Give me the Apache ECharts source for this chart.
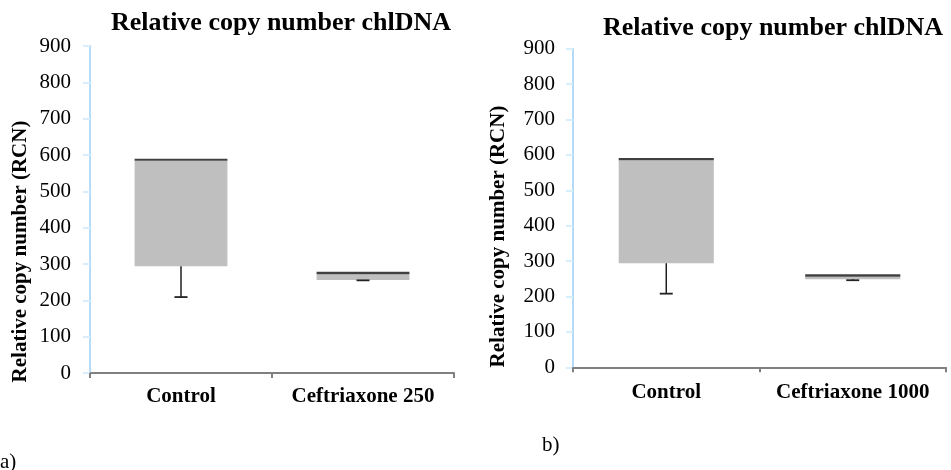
<!DOCTYPE html>
<html><head><meta charset="utf-8">
<script src="https://cdn.jsdelivr.net/npm/echarts@6/dist/echarts.min.js"></script>
<style>html,body{margin:0;padding:0;background:#fff}#c{width:951px;height:470px}</style>
</head><body><div id="c"></div>
<script>
// ---- data ----
const titleText = 'Relative copy number chlDNA';
const yAxisName = 'Relative copy number (RCN)';
const categoriesA = ['Control', 'Ceftriaxone 250'];
const categoriesB = ['Control', 'Ceftriaxone 1000'];
const minA = [209, 255];
const q1A = [294, 256];
const medianA = [584, 272];
const q3A = [590, 279];
const minB = [208, 246];
const q1B = [294, 249];
const medianB = [585, 256];
const q3B = [591, 263];
const yMin = 0, yMax = 900, yStep = 100;

// ---- styles ----
const FONT = "'Liberation Serif', 'Times New Roman', serif";
const BOX_COLOR = '#bfbfbf';
const TOP_COLOR = '#404040';

function whisker(params, api) {
  const i = api.value(0);
  const a = api.coord([i, api.value(1)]);
  const b = api.coord([i, api.value(2)]);
  return {
    type: 'group',
    children: [
      { type: 'line', shape: { x1: a[0], y1: a[1], x2: b[0], y2: b[1] }, style: { stroke: '#111', lineWidth: 1.4 } },
      { type: 'line', shape: { x1: b[0] - 6.5, y1: b[1], x2: b[0] + 6.5, y2: b[1] }, style: { stroke: '#222', lineWidth: 1.8 } }
    ]
  };
}

function seriesFor(idx, cats, mn, q1, med, q3) {
  const stack = 's' + idx;
  return [
    { type: 'bar', xAxisIndex: idx, yAxisIndex: idx, stack, barWidth: '51%', silent: true,
      itemStyle: { color: 'rgba(0,0,0,0)' }, data: q1.slice() },
    { type: 'bar', xAxisIndex: idx, yAxisIndex: idx, stack, barWidth: '51%', silent: true,
      itemStyle: { color: BOX_COLOR }, data: med.map((m, i) => m - q1[i]) },
    { type: 'bar', xAxisIndex: idx, yAxisIndex: idx, stack, barWidth: '51%', silent: true,
      itemStyle: { color: TOP_COLOR }, data: q3.map((q, i) => q - med[i]) },
    { type: 'custom', xAxisIndex: idx, yAxisIndex: idx, z: 5, silent: true, renderItem: whisker,
      encode: { x: 0, y: [1, 2] }, data: cats.map((c, i) => [i, q1[i], mn[i]]) }
  ];
}

function xAxis(idx, cats, margin) {
  return {
    type: 'category', gridIndex: idx, data: cats,
    axisLine: { lineStyle: { color: '#808080', width: 2 } },
    axisTick: { show: true, length: 5, lineStyle: { color: '#808080', width: 2 } },
    axisLabel: { interval: 0, fontFamily: FONT, fontSize: 21, fontWeight: 'bold', color: '#000', margin: margin },
    splitLine: { show: false }
  };
}
function yAxis(idx, margin) {
  return {
    type: 'value', gridIndex: idx, min: yMin, max: yMax, interval: yStep,
    axisLine: { show: true, lineStyle: { color: '#b4dcf8', width: 2 } },
    axisTick: { show: true, length: 7, lineStyle: { color: '#d8eefc', width: 2 } },
    axisLabel: { fontFamily: FONT, fontSize: 21, color: '#000', margin: margin },
    splitLine: { show: false }
  };
}
function txt(text, x, y, size, weight, rot, align) {
  return {
    type: 'text', x: x, y: y, rotation: rot || 0, silent: true,
    style: { text: text, font: weight + ' ' + size + 'px ' + FONT, fill: '#000',
      textAlign: align || 'center', textVerticalAlign: 'middle', align: align || 'center', verticalAlign: 'middle' }
  };
}

const chart = echarts.init(document.getElementById('c'), null, { renderer: 'canvas' });
chart.setOption({
  animation: false,
  backgroundColor: '#fff',
  grid: [
    { left: 90, top: 46, width: 364, height: 327 },
    { left: 573, top: 48.7, width: 373, height: 318.6 }
  ],
  xAxis: [xAxis(0, categoriesA, 13), xAxis(1, categoriesB, 14.5)],
  yAxis: [yAxis(0, 19), yAxis(1, 18)],
  series: seriesFor(0, categoriesA, minA, q1A, medianA, q3A)
    .concat(seriesFor(1, categoriesB, minB, q1B, medianB, q3B)),
  graphic: [
    txt(titleText, 281, 23.5, 26, 'bold'),
    txt(titleText, 773, 28, 26, 'bold'),
    txt(yAxisName, 20.5, 251.5, 21, 'bold', Math.PI / 2),
    txt(yAxisName, 499, 236.5, 21, 'bold', Math.PI / 2),
    txt('a)', 0, 462, 21, 'normal', 0, 'left'),
    txt('b)', 542, 445, 21, 'normal', 0, 'left')
  ]
});
</script>
</body></html>
